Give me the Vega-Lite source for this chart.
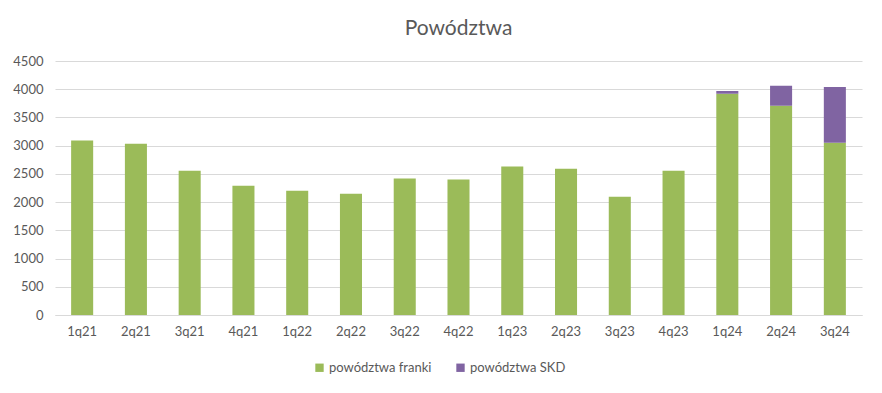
{
  "$schema": "https://vega.github.io/schema/vega-lite/v6.json",
  "width": 807,
  "height": 254,
  "autosize": {"type": "none"},
  "padding": {"left": 55, "top": 61, "right": 20, "bottom": 78},
  "background": "white",
  "title": {"text": "Powództwa", "fontSize": 21, "font": "Lato", "fontWeight": "normal", "color": "#595959", "anchor": "middle", "offset": 16},
  "config": {
    "font": "Lato",
    "view": {"stroke": null},
    "axis": {"labelFont": "Lato", "labelColor": "#595959", "labelFontSize": 13, "ticks": false, "title": null}
  },
  "data": {"values": [
    {"q": "1q21", "series": "powództwa franki", "v": 3090},
    {"q": "2q21", "series": "powództwa franki", "v": 3035},
    {"q": "3q21", "series": "powództwa franki", "v": 2555},
    {"q": "4q21", "series": "powództwa franki", "v": 2290},
    {"q": "1q22", "series": "powództwa franki", "v": 2200},
    {"q": "2q22", "series": "powództwa franki", "v": 2150},
    {"q": "3q22", "series": "powództwa franki", "v": 2420},
    {"q": "4q22", "series": "powództwa franki", "v": 2400},
    {"q": "1q23", "series": "powództwa franki", "v": 2630},
    {"q": "2q23", "series": "powództwa franki", "v": 2590},
    {"q": "3q23", "series": "powództwa franki", "v": 2095},
    {"q": "4q23", "series": "powództwa franki", "v": 2555},
    {"q": "1q24", "series": "powództwa franki", "v": 3920},
    {"q": "2q24", "series": "powództwa franki", "v": 3705},
    {"q": "3q24", "series": "powództwa franki", "v": 3050},
    {"q": "1q24", "series": "powództwa SKD", "v": 50},
    {"q": "2q24", "series": "powództwa SKD", "v": 355},
    {"q": "3q24", "series": "powództwa SKD", "v": 990}
  ]},
  "mark": {"type": "bar"},
  "encoding": {
    "x": {
      "field": "q", "type": "nominal", "sort": null,
      "scale": {"paddingInner": 0.59, "paddingOuter": 0.3},
      "axis": {"labelAngle": 0, "domainColor": "#D9D9D9", "labelPadding": 10, "grid": false}
    },
    "y": {
      "field": "v", "type": "quantitative", "stack": "zero",
      "scale": {"domain": [0, 4500], "nice": false},
      "axis": {"values": [0, 500, 1000, 1500, 2000, 2500, 3000, 3500, 4000, 4500], "format": "d", "domain": false, "gridColor": "#D9D9D9", "labelPadding": 12}
    },
    "color": {
      "field": "series", "type": "nominal",
      "scale": {"domain": ["powództwa franki", "powództwa SKD"], "range": ["#9BBB59", "#8064A2"]},
      "legend": {"title": null, "orient": "none", "direction": "horizontal", "legendX": 258, "legendY": 300, "symbolType": "square", "symbolSize": 70, "symbolStrokeWidth": 0, "labelFontSize": 13, "labelColor": "#595959", "labelFont": "Lato", "columnPadding": 22, "labelOffset": 3}
    },
    "order": {"field": "series", "sort": "descending"}
  }
}
